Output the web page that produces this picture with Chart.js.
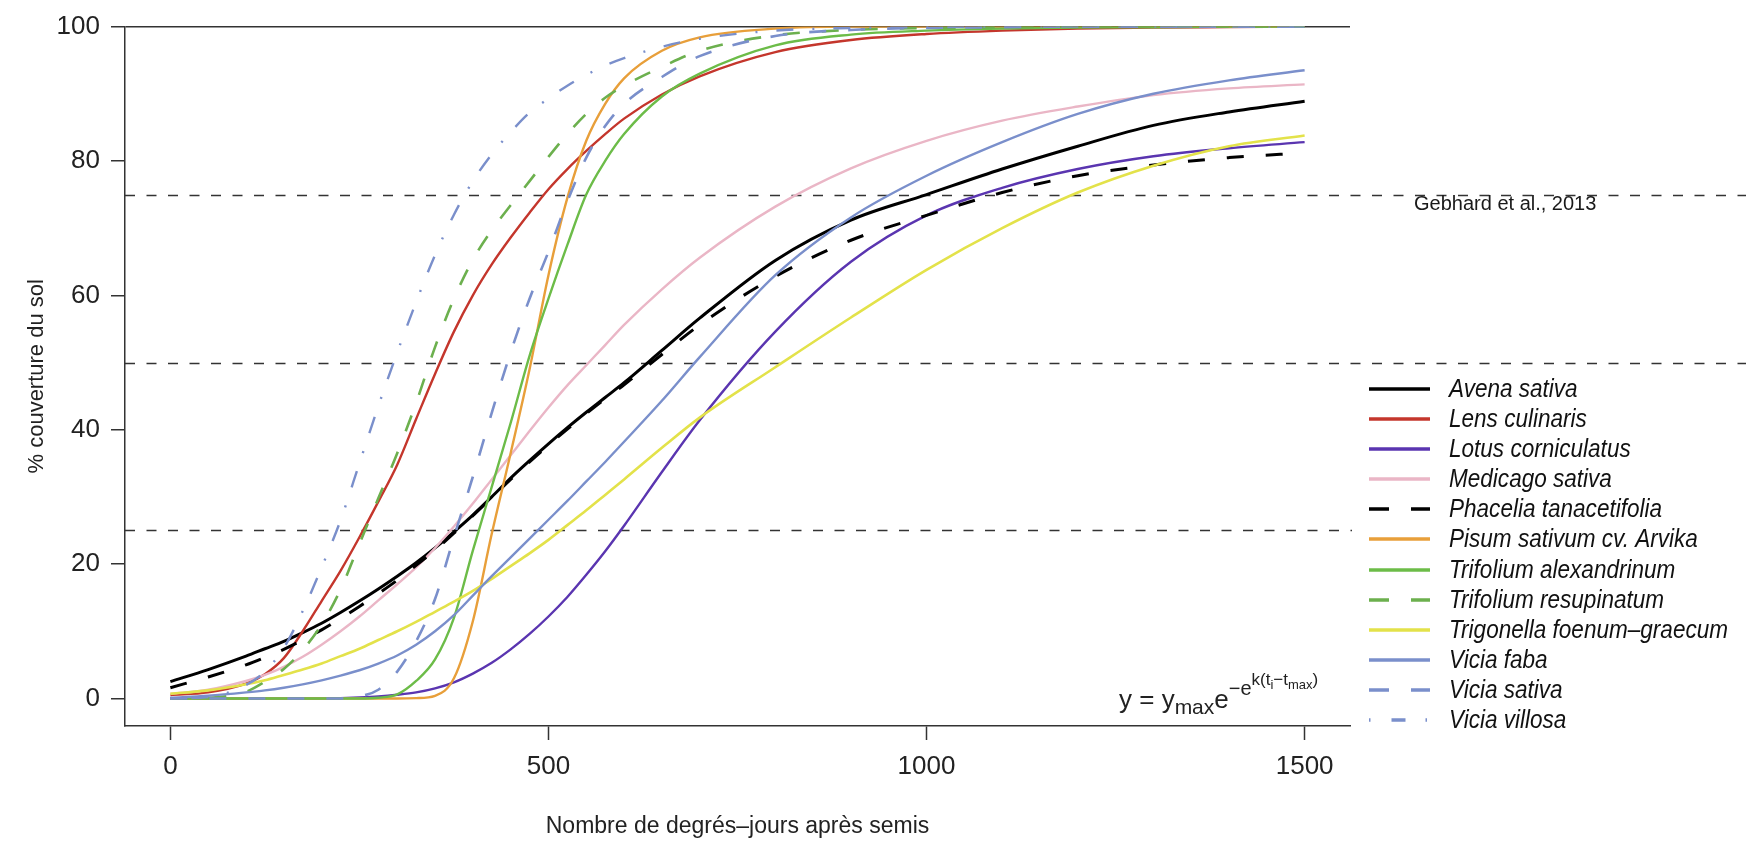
<!DOCTYPE html>
<html>
<head>
<meta charset="utf-8">
<script src="https://cdn.jsdelivr.net/npm/chart.js@4.4.1/dist/chart.umd.min.js"></script>
<style>
  html, body { margin: 0; padding: 0; background: #fff; }
</style>
</head>
<body>
<canvas id="myChart" width="1746" height="842"></canvas>
<script>
// degree-days after sowing (x positions of the read-off points)
const degreeDays = [0, 50, 100, 125, 150, 175, 200, 225, 250, 275, 300, 325, 350, 375, 400, 425, 450, 475, 500, 525, 550, 575, 600, 650, 700, 800, 900, 1000, 1100, 1200, 1300, 1400, 1500];

// % ground cover per species
const avenaSativa        = [2.5, 4.3, 6.3, 7.4, 8.5, 9.8, 11.2, 12.8, 14.5, 16.3, 18.2, 20.2, 22.4, 24.8, 27.3, 30.0, 32.8, 35.4, 37.9, 40.3, 42.6, 44.8, 47.0, 51.8, 56.6, 65.2, 71.2, 75.0, 78.8, 82.2, 85.3, 87.3, 88.9];
const lensCulinaris      = [0.5, 0.9, 2.2, 3.6, 6.0, 10.0, 14.5, 19.0, 24.0, 29.3, 34.8, 41.6, 48.3, 54.6, 60.0, 64.6, 68.6, 72.3, 75.8, 78.8, 81.5, 84.0, 86.3, 89.9, 92.6, 96.2, 98.0, 98.9, 99.4, 99.7, 99.85, 99.92, 100];
const lotusCorniculatus  = [0, 0, 0, 0, 0, 0, 0, 0.05, 0.15, 0.3, 0.55, 0.9, 1.5, 2.4, 3.7, 5.3, 7.3, 9.6, 12.2, 15.1, 18.4, 21.9, 25.7, 33.7, 41.4, 54.6, 65.0, 71.9, 76.0, 78.8, 80.7, 81.9, 82.8];
const medicagoSativa     = [0.7, 1.3, 2.6, 3.5, 4.7, 6.2, 8.0, 10.0, 12.2, 14.6, 17.0, 19.5, 22.4, 25.6, 29.0, 32.6, 36.2, 39.8, 43.3, 46.6, 49.6, 52.6, 55.6, 60.9, 65.6, 73.2, 78.9, 83.0, 86.0, 88.1, 89.8, 90.8, 91.4];
const phaceliaTanacet    = [1.6, 3.2, 5.0, 6.1, 7.3, 8.7, 10.2, 11.9, 13.7, 15.6, 17.6, 19.8, 22.1, 24.6, 27.2, 29.9, 32.6, 35.2, 37.7, 40.1, 42.4, 44.6, 46.7, 51.2, 55.6, 62.8, 68.2, 71.9, 75.3, 77.8, 79.4, 80.5, 81.2];
const pisumSativum       = [0, 0, 0, 0, 0, 0, 0, 0, 0, 0, 0, 0.05, 0.4, 3.0, 11.5, 24.5, 36.5, 49.0, 63.0, 74.5, 83.0, 88.5, 92.3, 96.4, 98.4, 99.7, 100, 100, 100, 100, 100, 100, 100];
const trifoliumAlex      = [0, 0, 0, 0, 0, 0, 0, 0, 0, 0.1, 0.6, 2.6, 5.8, 12.0, 22.0, 31.5, 41.0, 51.0, 59.5, 67.5, 75.0, 80.0, 84.0, 89.6, 93.0, 97.2, 98.8, 99.4, 99.7, 99.85, 99.9, 100, 100];
const trifoliumResup     = [0, 0.1, 1.0, 2.5, 4.4, 7.2, 11.0, 16.2, 23.0, 29.8, 36.5, 44.0, 52.3, 59.5, 65.3, 69.7, 73.4, 77.0, 80.6, 84.0, 87.0, 89.4, 91.2, 94.0, 96.4, 98.7, 99.5, 99.8, 99.9, 100, 100, 100, 100];
const trigonellaFoenum   = [0.7, 1.2, 2.1, 2.7, 3.5, 4.3, 5.2, 6.3, 7.4, 8.7, 10.0, 11.4, 12.9, 14.4, 16.0, 17.8, 19.7, 21.6, 23.6, 25.8, 28.0, 30.3, 32.6, 37.3, 41.8, 49.3, 56.7, 63.8, 70.0, 75.3, 79.3, 82.2, 83.8];
const viciaFaba          = [0.1, 0.4, 0.9, 1.2, 1.6, 2.1, 2.7, 3.4, 4.2, 5.2, 6.4, 8.0, 10.0, 12.4, 15.3, 18.2, 21.0, 23.8, 26.6, 29.4, 32.3, 35.2, 38.2, 44.3, 50.8, 63.0, 71.6, 77.8, 82.8, 87.0, 90.0, 92.0, 93.5];
const viciaSativa        = [0, 0, 0, 0, 0, 0, 0, 0, 0.3, 1.3, 4.0, 8.5, 14.8, 24.0, 33.0, 42.5, 51.5, 59.5, 66.5, 74.0, 80.5, 85.2, 88.5, 92.5, 95.6, 98.6, 99.5, 99.8, 99.9, 100, 100, 100, 100];
const viciaVillosa       = [0, 0.2, 2.0, 4.0, 7.5, 13.0, 19.5, 26.5, 35.0, 43.5, 51.5, 59.0, 66.0, 72.0, 77.0, 81.0, 84.3, 87.2, 89.3, 91.2, 92.8, 94.2, 95.3, 97.0, 98.2, 99.4, 99.8, 99.9, 100, 100, 100, 100, 100];

const speciesNames = ['Avena sativa', 'Lens culinaris', 'Lotus corniculatus', 'Medicago sativa', 'Phacelia tanacetifolia', 'Pisum sativum cv. Arvika', 'Trifolium alexandrinum', 'Trifolium resupinatum', 'Trigonella foenum\u2013graecum', 'Vicia faba', 'Vicia sativa', 'Vicia villosa'];
const speciesValues = [avenaSativa, lensCulinaris, lotusCorniculatus, medicagoSativa, phaceliaTanacet, pisumSativum, trifoliumAlex, trifoliumResup, trigonellaFoenum, viciaFaba, viciaSativa, viciaVillosa];

const xTicks = [0, 500, 1000, 1500];
const yTicks = [0, 20, 40, 60, 80, 100];
const refLevels = [25, 50, 75];

const colors = ['#000000', '#c4362c', '#5a35b0', '#eab6c6', '#000000', '#e89f3a', '#6cbc48', '#6cb04e', '#e3e24a', '#7a8fcb', '#7a8fcb', '#7a8fcb'];
const widths = [3, 2.4, 2.4, 2.4, 3, 2.4, 2.4, 2.6, 2.6, 2.4, 2.6, 2.4];
const dashes = [[], [], [], [], [17, 22], [], [], [17, 22], [], [], [17, 22], [2, 19, 17, 19]];
const legendDashes = [[], [], [], [], [20, 22], [], [], [20, 22], [], [], [20, 22], [1.5, 21, 14, 20]];

const sans = "'Liberation Sans', Arial, sans-serif";

const datasets = speciesNames.map(function (name, i) {
    return {
        label: name,
        data: degreeDays.map(function (d, j) { return { x: d, y: speciesValues[i][j] } }),
        borderColor: colors[i],
        borderWidth: widths[i],
        borderDash: dashes[i],
        pointRadius: 0,
        fill: false,
        cubicInterpolationMode: 'monotone',
        order: speciesNames.length - i
    }
})

// dashed 25 / 50 / 75 % lines, running past the plot to the right edge
const refLines = {
    id: 'refLines',
    beforeDatasetsDraw(chart) {
        const c = chart.ctx, y = chart.scales.y
        c.save()
        c.strokeStyle = '#333'
        c.lineWidth = 1.4
        c.setLineDash([10, 11.5])
        refLevels.forEach(function (v) {
            const py = Math.round(y.getPixelForValue(v)) + 0.5
            c.beginPath()
            c.moveTo(chart.chartArea.left, py)
            c.lineTo(chart.width, py)
            c.stroke()
        })
        c.restore()
    }
}

const formula = {
    id: 'formula',
    afterDatasetsDraw(chart) {
        const c = chart.ctx
        const parts = [
            { t: 'y = y', s: 26, dy: 0 },
            { t: 'max', s: 21, dy: 6 },
            { t: 'e', s: 26, dy: 0 },
            { t: '\u2212e', s: 20, dy: -13 },
            { t: 'k(t', s: 17, dy: -23 },
            { t: 'i', s: 13, dy: -19 },
            { t: '\u2212t', s: 17, dy: -23 },
            { t: 'max', s: 13, dy: -19 },
            { t: ')', s: 17, dy: -23 }
        ]
        let x = 1119
        const base = 708
        c.save()
        c.fillStyle = '#222'
        c.textBaseline = 'alphabetic'
        parts.forEach(function (p) {
            c.font = p.s + 'px ' + sans
            c.fillText(p.t, x, base + p.dy)
            x += c.measureText(p.t).width
        })
        c.restore()
    }
}

const speciesLegend = {
    id: 'speciesLegend',
    afterDraw(chart) {
        const c = chart.ctx
        const y0 = 388.6, step = 30.16, x0 = 1369, len = 61, tx = 1449, textW = 279
        c.save()
        c.fillStyle = '#fff'
        c.fillRect(1352, y0 - 17, chart.width - 1352, step * 12 + 6)
        c.font = 'italic 25px ' + sans
        const sx = textW / c.measureText(speciesNames[8]).width
        chart.data.datasets.forEach(function (ds, i) {
            const y = Math.round(y0 + i * step)
            c.beginPath()
            c.strokeStyle = ds.borderColor
            c.lineWidth = 3.6
            c.setLineDash(legendDashes[i])
            c.moveTo(x0, y)
            c.lineTo(x0 + len, y)
            c.stroke()
            c.setLineDash([])
            c.save()
            c.translate(tx, y + 1)
            c.scale(sx, 1)
            c.fillStyle = '#111'
            c.textBaseline = 'middle'
            c.fillText(ds.label, 0, 0)
            c.restore()
        })
        c.fillStyle = '#1a1a1a'
        c.font = '20px ' + sans
        c.textBaseline = 'middle'
        c.fillText('Gebhard et al., 2013', 1414, 204)
        c.restore()
    }
}

const ctx = document.getElementById('myChart')
const myChart = new Chart(ctx, {
    type: 'line',
    data: { datasets: datasets },
    options: {
        responsive: false,
        animation: false,
        devicePixelRatio: 1,
        layout: { padding: { top: 20, right: 396, bottom: 0, left: 0 } },
        plugins: { legend: { display: false }, tooltip: { enabled: false } },
        scales: {
            x: {
                type: 'linear',
                min: -60,
                max: 1560,
                afterBuildTicks: function (s) { s.ticks = xTicks.map(function (v) { return { value: v } }) },
                afterFit: function (s) { s.height = 116 },
                grid: { drawOnChartArea: false, tickLength: 14, tickColor: '#333', tickWidth: 1.5 },
                border: { color: '#333', width: 1.5 },
                ticks: { padding: 11, color: '#222', font: { family: sans, size: 26 }, maxRotation: 0, autoSkip: false, callback: function (v) { return String(v) } },
                title: { display: true, text: 'Nombre de degrés\u2013jours après semis', color: '#222', font: { family: sans, size: 23 }, padding: { top: 0, bottom: 2 } }
            },
            y: {
                min: -4.1,
                max: 100,
                afterBuildTicks: function (s) { s.ticks = yTicks.map(function (v) { return { value: v } }) },
                afterFit: function (s) { s.width = 125 },
                grid: {
                    color: function (c) { return c.tick && c.tick.value === 100 ? '#333' : 'rgba(0,0,0,0)' },
                    lineWidth: 1.5,
                    tickLength: 14,
                    tickColor: '#333',
                    tickWidth: 1.5
                },
                border: { color: '#333', width: 1.5 },
                ticks: { padding: 11, color: '#222', font: { family: sans, size: 26 }, callback: function (v) { return String(v) } },
                title: { display: true, text: '% couverture du sol', color: '#222', font: { family: sans, size: 22 }, padding: { top: 24, bottom: 0 } }
            }
        }
    },
    plugins: [refLines, formula, speciesLegend]
})
</script>
</body>
</html>
